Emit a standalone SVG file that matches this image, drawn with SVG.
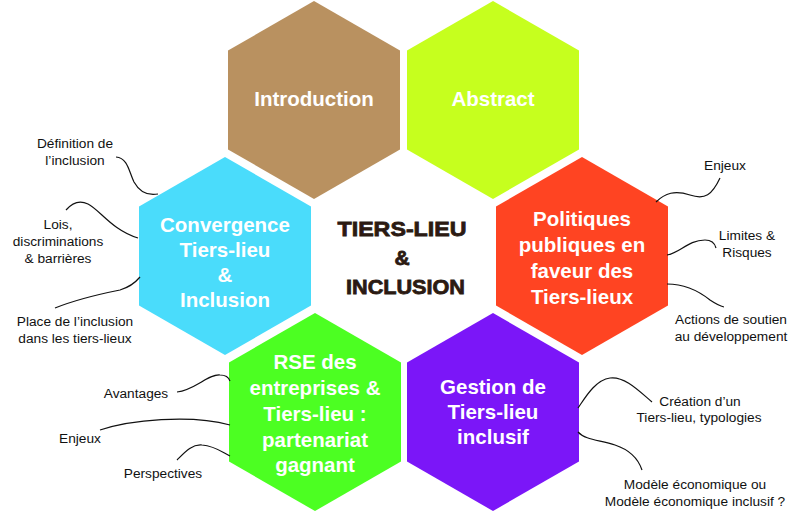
<svg xmlns="http://www.w3.org/2000/svg" xmlns:xlink="http://www.w3.org/1999/xlink" width="797" height="512" viewBox="0 0 797 512">
<style>
.hl{font-family:"Liberation Sans",Arial,sans-serif;font-weight:bold;font-size:20.5px;fill:#fff;text-anchor:middle}
.lb{font-family:"Liberation Sans",Arial,sans-serif;font-size:13.7px;fill:#111;text-anchor:middle}
.ct{font-family:"Liberation Sans",Arial,sans-serif;font-weight:bold;font-size:21px;fill:#2b1a12;stroke:#2b1a12;stroke-width:0.8;text-anchor:middle}
.cn{fill:none;stroke:#111;stroke-width:1.2}
</style>
<defs>
<polygon id="hex" points="0,-99 86,-49.5 86,49.5 0,99 -86,49.5 -86,-49.5"/>
</defs>
<rect width="797" height="512" fill="#fff"/>
<g id="introduction">
<use xlink:href="#hex" transform="translate(314,100)" fill="#b99160"/>
<text class="hl" x="314" y="106">Introduction</text>
</g>
<g id="abstract">
<use xlink:href="#hex" transform="translate(493,100)" fill="#c6ff1e"/>
<text class="hl" x="493" y="106">Abstract</text>
</g>
<g id="convergence">
<use xlink:href="#hex" transform="translate(225,256)" fill="#4adcfb"/>
<text class="hl" x="225" y="232">Convergence</text>
<text class="hl" x="225" y="257">Tiers-lieu</text>
<text class="hl" x="225" y="282">&amp;</text>
<text class="hl" x="225" y="307">Inclusion</text>
</g>
<g id="politiques">
<use xlink:href="#hex" transform="translate(582,256)" fill="#ff4422"/>
<text class="hl" x="582" y="226">Politiques</text>
<text class="hl" x="582" y="252">publiques en</text>
<text class="hl" x="582" y="278">faveur des</text>
<text class="hl" x="582" y="304">Tiers-lieux</text>
</g>
<g id="rse">
<use xlink:href="#hex" transform="translate(315,412)" fill="#4cff22"/>
<text class="hl" x="315" y="369">RSE des</text>
<text class="hl" x="315" y="395">entreprises &amp;</text>
<text class="hl" x="315" y="421">Tiers-lieu :</text>
<text class="hl" x="315" y="447">partenariat</text>
<text class="hl" x="315" y="472">gagnant</text>
</g>
<g id="gestion">
<use xlink:href="#hex" transform="translate(493,412)" fill="#7b16f8"/>
<text class="hl" x="493" y="394">Gestion de</text>
<text class="hl" x="493" y="419">Tiers-lieu</text>
<text class="hl" x="493" y="444">inclusif</text>
</g>
<g id="centre">
<text class="ct" x="402" y="236" textLength="129" lengthAdjust="spacingAndGlyphs">TIERS-LIEU</text>
<text class="ct" x="402" y="265">&amp;</text>
<text class="ct" x="405.5" y="294" textLength="119" lengthAdjust="spacingAndGlyphs">INCLUSION</text>
</g>
<g id="labels">
<text class="lb" x="75" y="148">Définition de</text>
<text class="lb" x="75" y="165">l’inclusion</text>
<text class="lb" x="58" y="229">Lois,</text>
<text class="lb" x="58" y="246">discriminations</text>
<text class="lb" x="58" y="263">&amp; barrières</text>
<text class="lb" x="75" y="326">Place de l’inclusion</text>
<text class="lb" x="75" y="343">dans les tiers-lieux</text>
<text class="lb" x="725" y="170">Enjeux</text>
<text class="lb" x="747" y="240">Limites &amp;</text>
<text class="lb" x="747" y="257">Risques</text>
<text class="lb" x="731" y="324">Actions de soutien</text>
<text class="lb" x="731" y="341">au développement</text>
<text class="lb" x="136" y="398">Avantages</text>
<text class="lb" x="80" y="443">Enjeux</text>
<text class="lb" x="163" y="478">Perspectives</text>
<text class="lb" x="700" y="406">Création d’un</text>
<text class="lb" x="699" y="422">Tiers-lieu, typologies</text>
<text class="lb" x="695" y="489">Modèle économique ou</text>
<text class="lb" x="695" y="506">Modèle économique inclusif ?</text>
</g>
<g id="connectors">
<path class="cn" d="M116,157 C128,158 129,172 134,182 C139,191 147,196 158,194"/>
<path class="cn" d="M66,210 C72,203 80,200 88,204 C100,210 112,230 138,238"/>
<path class="cn" d="M55,308 C75,300 100,294 120,290 C130,287 135,283 140,277"/>
<path class="cn" d="M656,202 C665,193 675,190 690,195 C705,200 712,195 720,178"/>
<path class="cn" d="M667,255 C680,253 688,240 705,240 C712,240 715,244 716,248"/>
<path class="cn" d="M667,284 C685,284 700,292 710,300 C716,304 720,306 724,307"/>
<path class="cn" d="M177,392 C195,390 208,374 220,375 C226,375 229,378 230,381"/>
<path class="cn" d="M100,430 C130,420 190,414 230,425"/>
<path class="cn" d="M177,460 C185,452 192,444 202,445 C215,446 222,452 230,456"/>
<path class="cn" d="M578,408 C585,398 595,380 610,378 C625,376 640,392 652,402"/>
<path class="cn" d="M578,432 C585,440 600,440 615,445 C630,450 638,458 642,470"/>
</g>
</svg>
